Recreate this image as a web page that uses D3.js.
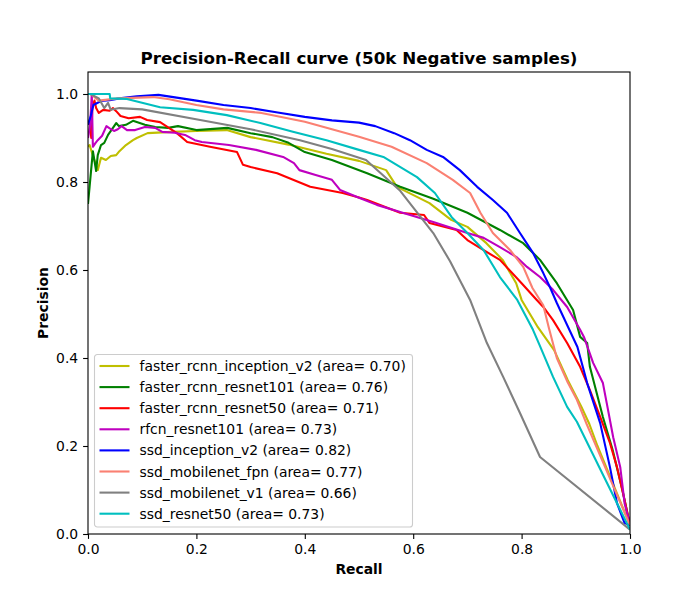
<!DOCTYPE html>
<html>
<head>
<meta charset="utf-8">
<script src="https://cdn.jsdelivr.net/npm/d3@7"></script>
<style>
  body { margin: 0; background: #fff; }
  text { font-family: "DejaVu Sans", sans-serif; }
</style>
</head>
<body>
<div id="chart"></div>
<script>
// series names and areas, in plotting order
var names = ["faster_rcnn_inception_v2", "faster_rcnn_resnet101", "faster_rcnn_resnet50",
  "rfcn_resnet101", "ssd_inception_v2", "ssd_mobilenet_fpn", "ssd_mobilenet_v1", "ssd_resnet50"];
var areas = ["0.70", "0.76", "0.71", "0.73", "0.82", "0.77", "0.66", "0.73"];
var colors = ["#bfbf00", "#008000", "#ff0000", "#bf00bf", "#0000ff", "#fa8072", "#808080", "#00bfbf"];

var xTicks = [0.0, 0.2, 0.4, 0.6, 0.8, 1.0];
var yTicks = [0.0, 0.2, 0.4, 0.6, 0.8, 1.0];

// [recall, precision] points
var fasterRcnnInceptionV2 = [[0,0.88],[0.003,0.884],[0.009,0.86],[0.018,0.827],[0.024,0.855],[0.033,0.85],[0.042,0.859],
  [0.052,0.861],[0.058,0.87],[0.07,0.884],[0.083,0.895],[0.09,0.9],[0.11,0.911],[0.155,0.914],[0.2,0.916],
  [0.256,0.918],[0.3,0.902],[0.37,0.885],[0.44,0.864],[0.5,0.848],[0.55,0.827],[0.57,0.789],[0.63,0.752],
  [0.67,0.714],[0.7,0.698],[0.735,0.661],[0.765,0.623],[0.79,0.57],[0.8,0.532],[0.83,0.47],[0.86,0.418],
  [0.885,0.35],[0.91,0.29],[0.925,0.25],[0.94,0.2],[1.0,0.02]];
var fasterRcnnResnet101 = [[0,0.75],[0.003,0.79],[0.009,0.87],[0.015,0.825],[0.018,0.861],[0.024,0.884],[0.03,0.889],
  [0.037,0.907],[0.046,0.923],[0.052,0.934],[0.057,0.927],[0.07,0.93],[0.083,0.939],[0.105,0.93],[0.124,0.925],
  [0.148,0.923],[0.166,0.927],[0.2,0.918],[0.257,0.923],[0.3,0.911],[0.34,0.902],[0.37,0.889],[0.4,0.868],
  [0.45,0.85],[0.515,0.82],[0.576,0.789],[0.637,0.762],[0.7,0.73],[0.76,0.691],[0.803,0.661],[0.834,0.623],
  [0.865,0.57],[0.895,0.509],[0.908,0.448],[0.921,0.434],[0.926,0.38],[0.95,0.266],[0.968,0.191],[0.986,0.1],[1.0,0.02]];
var fasterRcnnResnet50 = [[0,0.93],[0.003,0.94],[0.006,0.9],[0.008,0.97],[0.012,0.985],[0.015,0.968],[0.02,0.957],
  [0.028,0.964],[0.04,0.962],[0.046,0.968],[0.052,0.961],[0.06,0.95],[0.075,0.945],[0.096,0.948],[0.109,0.941],
  [0.133,0.936],[0.164,0.911],[0.183,0.891],[0.225,0.88],[0.275,0.868],[0.286,0.839],[0.3,0.834],[0.349,0.82],
  [0.41,0.789],[0.47,0.775],[0.5,0.765],[0.515,0.759],[0.576,0.73],[0.62,0.725],[0.63,0.707],[0.68,0.691],
  [0.7,0.668],[0.73,0.645],[0.76,0.623],[0.8,0.57],[0.828,0.532],[0.84,0.516],[0.858,0.486],[0.884,0.434],
  [0.908,0.38],[0.926,0.327],[0.945,0.266],[0.963,0.207],[0.976,0.152],[0.99,0.077],[1.0,0.02]];
var rfcnResnet101 = [[0,0.9],[0.004,0.93],[0.007,1.0],[0.009,0.88],[0.014,0.889],[0.018,0.895],[0.026,0.905],
  [0.034,0.927],[0.04,0.922],[0.048,0.916],[0.055,0.92],[0.062,0.927],[0.072,0.918],[0.087,0.918],[0.105,0.925],
  [0.124,0.923],[0.137,0.914],[0.16,0.912],[0.179,0.907],[0.197,0.895],[0.21,0.891],[0.26,0.884],[0.31,0.873],
  [0.36,0.857],[0.38,0.843],[0.39,0.827],[0.42,0.816],[0.45,0.805],[0.465,0.782],[0.5,0.764],[0.533,0.748],
  [0.576,0.732],[0.637,0.709],[0.7,0.684],[0.73,0.673],[0.76,0.652],[0.79,0.63],[0.81,0.607],[0.834,0.584],
  [0.858,0.555],[0.884,0.516],[0.908,0.464],[0.915,0.448],[0.932,0.389],[0.95,0.343],[0.957,0.298],[0.969,0.22],
  [0.982,0.152],[0.99,0.07],[1.0,0.02]];
var ssdInceptionV2 = [[0,0.93],[0.005,0.95],[0.01,0.975],[0.024,0.984],[0.04,0.986],[0.058,0.99],[0.09,0.995],
  [0.13,0.998],[0.2,0.985],[0.25,0.975],[0.3,0.968],[0.35,0.958],[0.4,0.948],[0.45,0.94],[0.5,0.935],
  [0.53,0.927],[0.565,0.911],[0.594,0.895],[0.625,0.873],[0.655,0.857],[0.686,0.827],[0.718,0.789],[0.747,0.759],
  [0.773,0.73],[0.797,0.684],[0.821,0.639],[0.84,0.593],[0.853,0.559],[0.865,0.525],[0.903,0.425],[0.921,0.343],
  [0.945,0.252],[0.963,0.152],[0.976,0.07],[0.99,0.025],[1.0,0.02]];
var ssdMobilenetFpn = [[0.005,1.0],[0.02,0.985],[0.055,0.99],[0.12,0.993],[0.15,0.988],[0.2,0.975],[0.25,0.965],
  [0.32,0.957],[0.4,0.937],[0.45,0.92],[0.5,0.903],[0.56,0.88],[0.625,0.843],[0.673,0.805],[0.705,0.775],
  [0.724,0.73],[0.747,0.684],[0.779,0.645],[0.803,0.607],[0.82,0.559],[0.84,0.52],[0.85,0.47],[0.865,0.4],
  [0.885,0.345],[0.902,0.305],[0.92,0.25],[0.927,0.23],[1.0,0.02]];
var ssdMobilenetV1 = [[0.004,1.0],[0.02,0.99],[0.03,0.968],[0.037,0.98],[0.042,0.964],[0.058,0.968],[0.1,0.965],
  [0.207,0.941],[0.3,0.92],[0.391,0.895],[0.45,0.875],[0.513,0.85],[0.576,0.78],[0.637,0.684],[0.668,0.62],
  [0.705,0.532],[0.736,0.434],[0.766,0.357],[0.797,0.275],[0.834,0.175],[1.0,0.01]];
var ssdResnet50 = [[0,1.0],[0.04,1.0],[0.041,0.99],[0.07,0.989],[0.133,0.97],[0.194,0.964],[0.256,0.952],
  [0.318,0.934],[0.378,0.914],[0.44,0.895],[0.5,0.873],[0.545,0.857],[0.607,0.811],[0.64,0.775],[0.671,0.72],
  [0.7,0.684],[0.73,0.645],[0.76,0.584],[0.792,0.532],[0.821,0.464],[0.833,0.43],[0.858,0.357],[0.884,0.289],
  [0.902,0.255],[1.0,0.01]];

var series = [fasterRcnnInceptionV2, fasterRcnnResnet101, fasterRcnnResnet50, rfcnResnet101,
  ssdInceptionV2, ssdMobilenetFpn, ssdMobilenetV1, ssdResnet50];

var width = 700, height = 600;
var margin = { top: 72, right: 70, bottom: 66, left: 88 };
var plotW = width - margin.left - margin.right;
var plotH = height - margin.top - margin.bottom;

var svg = d3.select("#chart").append("svg")
  .attr("width", width)
  .attr("height", height);

var x = d3.scaleLinear().domain([0, 1]).range([0, plotW]);
var y = d3.scaleLinear().domain([0, 1.05]).range([plotH, 0]);

var g = svg.append("g").attr("transform", "translate(" + margin.left + "," + margin.top + ")");

g.append("clipPath").attr("id", "clip")
  .append("rect").attr("width", plotW).attr("height", plotH);

var line = d3.line()
  .x(function (d) { return x(d[0]); })
  .y(function (d) { return y(d[1]); });

g.append("g").attr("clip-path", "url(#clip)")
  .selectAll("path")
  .data(series)
  .enter()
  .append("path")
  .attr("d", line)
  .attr("fill", "none")
  .attr("stroke", function (d, i) { return colors[i]; })
  .attr("stroke-width", 2.1)
  .attr("stroke-linejoin", "round");

// axes
var xAxis = g.append("g")
  .attr("transform", "translate(0," + plotH + ")")
  .call(d3.axisBottom(x).tickValues(xTicks).tickFormat(d3.format(".1f")).tickSizeOuter(0).tickSize(4.9).tickPadding(4.9));
var yAxis = g.append("g")
  .call(d3.axisLeft(y).tickValues(yTicks).tickFormat(d3.format(".1f")).tickSizeOuter(0).tickSize(4.9).tickPadding(4.9));

[xAxis, yAxis].forEach(function (a) {
  a.select(".domain").remove();
  a.selectAll("line").attr("stroke", "#000").attr("stroke-width", 1.1);
  a.selectAll("text").attr("font-family", "DejaVu Sans").attr("font-size", 13.9).attr("fill", "#000");
});

// frame
g.append("rect")
  .attr("width", plotW).attr("height", plotH)
  .attr("fill", "none").attr("stroke", "#000").attr("stroke-width", 1.1);

// title and labels
svg.append("text")
  .attr("x", margin.left + plotW / 2).attr("y", 64)
  .attr("text-anchor", "middle")
  .attr("font-size", 16.7).attr("font-weight", "bold")
  .text("Precision-Recall curve (50k Negative samples)");

svg.append("text")
  .attr("x", margin.left + plotW / 2).attr("y", 574)
  .attr("text-anchor", "middle")
  .attr("font-size", 13.9).attr("font-weight", "bold")
  .text("Recall");

svg.append("text")
  .attr("transform", "translate(48," + (margin.top + plotH / 2) + ") rotate(-90)")
  .attr("text-anchor", "middle")
  .attr("font-size", 13.9).attr("font-weight", "bold")
  .text("Precision");

// legend, lower left
var legend = g.append("g").attr("transform", "translate(6.5," + (plotH - 179.5) + ")");
legend.append("rect")
  .attr("width", 318).attr("height", 172.5)
  .attr("rx", 2.8)
  .attr("fill", "#fff").attr("fill-opacity", 0.8)
  .attr("stroke", "#cccccc").attr("stroke-width", 1.1);

var rows = legend.selectAll(".row").data(names).enter().append("g")
  .attr("transform", function (d, i) { return "translate(0," + (11.5 + i * 21.1) + ")"; });
rows.append("line")
  .attr("x1", 5).attr("x2", 35)
  .attr("stroke", function (d, i) { return colors[i]; })
  .attr("stroke-width", 2.1);
rows.append("text")
  .attr("x", 45).attr("dy", "0.36em")
  .attr("font-size", 13.9)
  .text(function (d, i) { return d + " (area= " + areas[i] + ")"; });
</script>
</body>
</html>
